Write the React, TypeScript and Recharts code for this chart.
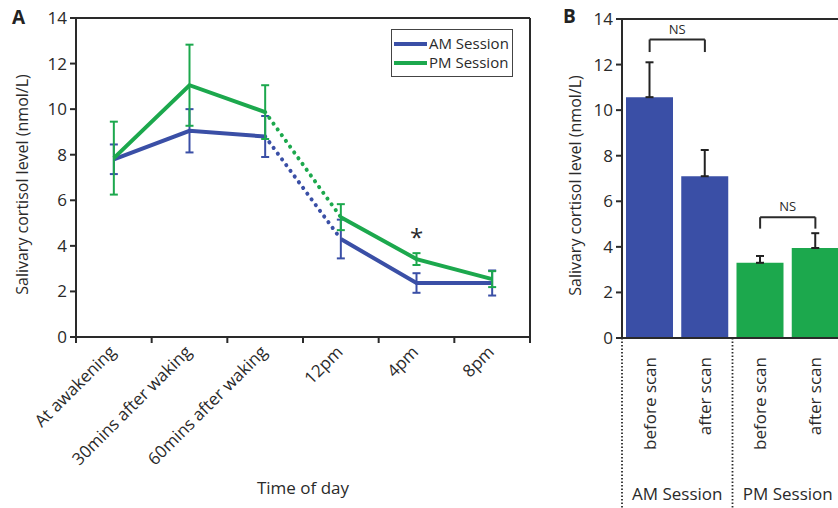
import {
  LineChart,
  Line,
  BarChart,
  Bar,
  Cell,
  XAxis,
  YAxis,
  ErrorBar,
  ReferenceLine,
  ReferenceDot,
  Legend,
  Label,
} from 'recharts';

const BLUE = '#3a4fa6';
const GREEN = '#1ca84d';
const INK = '#2a2a2a';
const FONT = '"Open Sans", sans-serif';

// panel A: cortisol through the day
const timePoints = ['At awakening', '30mins after waking', '60mins after waking', '12pm', '4pm', '8pm'];
const amMean = [7.8, 9.05, 8.8, 4.3, 2.37, 2.37];
const amSem = [0.65, 0.95, 0.9, 0.85, 0.43, 0.55];
const pmMean = [7.85, 11.05, 9.87, 5.26, 3.42, 2.54];
const pmSem = [1.6, 1.78, 1.18, 0.57, 0.26, 0.35];
// segment after this index (60mins -> 12pm) is drawn dotted
const gapAfter = 2;
const yTicks = [0, 2, 4, 6, 8, 10, 12, 14];

// panel B: before / after scan
const scanKeys = ['am-before', 'am-after', 'pm-before', 'pm-after'];
const scanLabels = ['before scan', 'after scan', 'before scan', 'after scan'];
const scanSession = ['AM Session', 'AM Session', 'PM Session', 'PM Session'];
const scanMean = [10.57, 7.1, 3.3, 3.95];
const scanSem = [1.53, 1.15, 0.3, 0.65];

const part = (vals: number[], keep: (i: number) => boolean) =>
  vals.map((v, i) => (keep(i) ? v : null));

const amEarly = part(amMean, (i) => i <= gapAfter);
const amLate = part(amMean, (i) => i > gapAfter);
const amGap = part(amMean, (i) => i === gapAfter || i === gapAfter + 1);
const pmEarly = part(pmMean, (i) => i <= gapAfter);
const pmLate = part(pmMean, (i) => i > gapAfter);
const pmGap = part(pmMean, (i) => i === gapAfter || i === gapAfter + 1);

const timeData = timePoints.map((label, i) => ({
  x: i + 0.5,
  label,
  am: amMean[i],
  pm: pmMean[i],
  amErr: amSem[i],
  pmErr: pmSem[i],
  amEarly: amEarly[i],
  amLate: amLate[i],
  amGap: amGap[i],
  pmEarly: pmEarly[i],
  pmLate: pmLate[i],
  pmGap: pmGap[i],
}));

const scanData = scanKeys.map((key, i) => ({
  key,
  label: scanLabels[i],
  session: scanSession[i],
  value: scanMean[i],
  errRange: [0, scanSem[i]],
}));

const xTicks = [0, 0.5, 1, 1.5, 2, 2.5, 3, 3.5, 4, 4.5, 5, 5.5, 6];

const TimeTick = (props: any) => {
  const { x, y, payload } = props;
  const v = payload.value;
  if (Number.isInteger(v)) {
    return <line x1={x} y1={y - 7} x2={x} y2={y} stroke={INK} strokeWidth={2} />;
  }
  const tx = x + 3;
  const ty = y + 10;
  return (
    <text
      x={tx}
      y={ty}
      transform={`rotate(-45, ${tx}, ${ty})`}
      textAnchor="end"
      fill={INK}
      fontSize={17}
      fontFamily={FONT}
    >
      {timePoints[Math.floor(v)]}
    </text>
  );
};

const ScanTick = (props: any) => {
  const { x, y, payload, index } = props;
  const off = payload.offset ?? 0;
  const row = scanData[index];
  const tx = x;
  const ty = y + 19;
  return (
    <g>
      <text
        x={tx}
        y={ty}
        dy="0.35em"
        transform={`rotate(-90, ${tx}, ${ty})`}
        textAnchor="end"
        fill={INK}
        fontSize={17}
        fontFamily={FONT}
      >
        {row ? row.label : ''}
      </text>
      {index % 2 === 0 && (
        <>
          <line x1={x - off} y1={y} x2={x - off} y2={508} stroke={INK} strokeWidth={1.8} strokeDasharray="1.5 2" />
          <text x={x + off} y={500} textAnchor="middle" fill={INK} fontSize={17} fontFamily={FONT}>
            {row ? row.session : ''}
          </text>
        </>
      )}
      {index === scanData.length - 1 && (
        <line x1={x + off} y1={y} x2={x + off} y2={508} stroke={INK} strokeWidth={1.8} strokeDasharray="1.5 2" />
      )}
    </g>
  );
};

const yTitle = (dx: number) => (p: any) => {
  const vb = p.viewBox;
  const cx = vb.x + dx;
  const cy = vb.y + vb.height / 2 + 7;
  return (
    <text
      x={cx}
      y={cy}
      transform={`rotate(-90, ${cx}, ${cy})`}
      textAnchor="middle"
      dominantBaseline="central"
      fill={INK}
      fontSize={16}
      fontFamily={FONT}
    >
      Salivary cortisol level (nmol/L)
    </text>
  );
};

const SessionLegend = () => (
  <div
    style={{
      border: '1.5px solid #444',
      background: '#fff',
      padding: '4px 4px 4px 2px',
      fontFamily: FONT,
      width: 122,
      boxSizing: 'border-box',
    }}
  >
    {[
      ['AM Session', BLUE],
      ['PM Session', GREEN],
    ].map(([name, color]) => (
      <div key={name} style={{ display: 'flex', alignItems: 'center', height: 19, whiteSpace: 'nowrap' }}>
        <span style={{ display: 'inline-block', width: 33, height: 4, background: color, marginRight: 2, flex: 'none' }} />
        <span style={{ fontSize: 15, color: INK, lineHeight: '19px' }}>{name}</span>
      </div>
    ))}
  </div>
);

const axisLine = { stroke: INK, strokeWidth: 2 };
const tickText = { fontSize: 17, fill: INK, fontFamily: FONT };

export default function App() {
  return (
    <div
      style={{
        position: 'absolute',
        left: 0,
        top: 0,
        width: 838,
        height: 508,
        overflow: 'hidden',
        background: '#fff',
        fontFamily: FONT,
      }}
    >
      <div style={{ position: 'absolute', left: 12, top: 4, fontSize: 19, fontWeight: 700, color: '#222' }}>A</div>
      <div style={{ position: 'absolute', left: 563, top: 3, fontSize: 19, fontWeight: 700, color: '#222' }}>B</div>

      <div style={{ position: 'absolute', left: 0, top: 0 }}>
        <LineChart width={540} height={508} data={timeData} margin={{ top: 18, right: 10, left: 36, bottom: 0 }}>
          <XAxis
            dataKey="x"
            type="number"
            domain={[0, 6]}
            ticks={xTicks}
            interval={0}
            tickSize={6}
            tickMargin={0}
            tickLine={false}
            axisLine={axisLine}
            tick={<TimeTick />}
            height={171}
          >
            <Label
              content={(p: any) => {
                const vb = p.viewBox;
                return (
                  <text x={vb.x + vb.width / 2} y={vb.y + vb.height - 14} textAnchor="middle" fill={INK} fontSize={17} fontFamily={FONT}>
                    Time of day
                  </text>
                );
              }}
            />
          </XAxis>
          <YAxis
            type="number"
            domain={[0, 14]}
            ticks={yTicks}
            interval={0}
            width={40}
            tickSize={6}
            tickMargin={3}
            tickLine={{ stroke: INK, strokeWidth: 2 }}
            axisLine={axisLine}
            tick={tickText}
          >
            <Label content={yTitle(-14)} />
          </YAxis>
          <ReferenceLine y={14} stroke={INK} strokeWidth={2} />
          <ReferenceLine x={6} stroke={INK} strokeWidth={2} />

          <Line dataKey="amEarly" stroke={BLUE} strokeWidth={4} dot={false} activeDot={false} isAnimationActive={false} />
          <Line dataKey="amLate" stroke={BLUE} strokeWidth={4} dot={false} activeDot={false} isAnimationActive={false} />
          <Line
            dataKey="amGap"
            stroke={BLUE}
            strokeWidth={4}
            strokeDasharray="0.1 7"
            strokeLinecap="round"
            dot={false}
            activeDot={false}
            isAnimationActive={false}
          />
          <Line dataKey="am" stroke="none" dot={false} activeDot={false} isAnimationActive={false}>
            <ErrorBar dataKey="amErr" width={4} strokeWidth={2} stroke={BLUE} direction="y" />
          </Line>

          <Line dataKey="pmEarly" stroke={GREEN} strokeWidth={4} dot={false} activeDot={false} isAnimationActive={false} />
          <Line dataKey="pmLate" stroke={GREEN} strokeWidth={4} dot={false} activeDot={false} isAnimationActive={false} />
          <Line
            dataKey="pmGap"
            stroke={GREEN}
            strokeWidth={4}
            strokeDasharray="0.1 7"
            strokeLinecap="round"
            dot={false}
            activeDot={false}
            isAnimationActive={false}
          />
          <Line dataKey="pm" stroke="none" dot={false} activeDot={false} isAnimationActive={false}>
            <ErrorBar dataKey="pmErr" width={4} strokeWidth={2} stroke={GREEN} direction="y" />
          </Line>

          <ReferenceDot
            x={4.5}
            y={4.35}
            r={0}
            label={{ value: '*', position: 'center', fontSize: 24, fill: INK, fontFamily: FONT }}
          />
          <Legend
            layout="vertical"
            align="center"
            verticalAlign="middle"
            content={<SessionLegend />}
            wrapperStyle={{ left: 391, top: 29, width: 130 }}
          />
        </LineChart>
      </div>

      <div style={{ position: 'absolute', left: 540, top: 0 }}>
        <BarChart width={320} height={508} data={scanData} margin={{ top: 19, right: 17, left: 40, bottom: 0 }} barCategoryGap={4}>
          <XAxis
            dataKey="key"
            type="category"
            interval={0}
            tickSize={0}
            tickMargin={0}
            tickLine={false}
            axisLine={axisLine}
            tick={<ScanTick />}
            height={170}
          />
          <YAxis
            type="number"
            domain={[0, 14]}
            ticks={yTicks}
            interval={0}
            width={42}
            tickSize={6}
            tickMargin={3}
            tickLine={{ stroke: INK, strokeWidth: 2 }}
            axisLine={axisLine}
            tick={tickText}
          >
            <Label content={yTitle(-5)} />
          </YAxis>
          <ReferenceLine y={14} stroke={INK} strokeWidth={2} />
          <Bar dataKey="value" isAnimationActive={false}>
            {scanData.map((d) => (
              <Cell key={d.key} fill={d.session === 'AM Session' ? BLUE : GREEN} />
            ))}
            <ErrorBar dataKey="errRange" width={4} strokeWidth={2} stroke="#222" direction="y" />
          </Bar>

          {/* NS brackets */}
          <ReferenceLine
            segment={[{ x: 'am-before', y: 13.1 }, { x: 'am-after', y: 13.1 }]}
            stroke={INK}
            strokeWidth={2}
            label={{ value: 'NS', position: 'top', offset: 6, fontSize: 13, fill: INK, fontFamily: FONT }}
          />
          <ReferenceLine segment={[{ x: 'am-before', y: 13.1 }, { x: 'am-before', y: 12.55 }]} stroke={INK} strokeWidth={2} />
          <ReferenceLine segment={[{ x: 'am-after', y: 13.1 }, { x: 'am-after', y: 12.55 }]} stroke={INK} strokeWidth={2} />
          <ReferenceLine
            segment={[{ x: 'pm-before', y: 5.3 }, { x: 'pm-after', y: 5.3 }]}
            stroke={INK}
            strokeWidth={2}
            label={{ value: 'NS', position: 'top', offset: 6, fontSize: 13, fill: INK, fontFamily: FONT }}
          />
          <ReferenceLine segment={[{ x: 'pm-before', y: 5.3 }, { x: 'pm-before', y: 4.8 }]} stroke={INK} strokeWidth={2} />
          <ReferenceLine segment={[{ x: 'pm-after', y: 5.3 }, { x: 'pm-after', y: 4.8 }]} stroke={INK} strokeWidth={2} />
        </BarChart>
      </div>
    </div>
  );
}
